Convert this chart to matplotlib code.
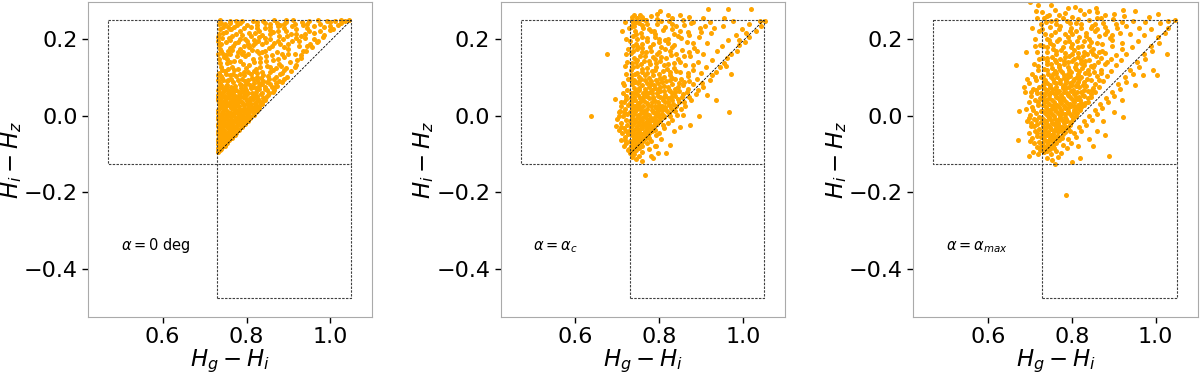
import numpy as np
import matplotlib
matplotlib.use("Agg")
import matplotlib.pyplot as plt

# colour-colour points, in units of 1e-3 mag: (Hg-Hi, Hi-Hz)
pts_zero = [
    (731, -96), (733, -91), (732, -85), (739, -86), (736, -80), (731, -74), (741, -77), (746, -73),
    (735, -69), (740, -65), (749, -62), (756, -61), (731, -60), (745, -57), (760, -55), (736, -52),
    (751, -49), (765, -47), (741, -45), (732, -41), (757, -42), (771, -40), (747, -37), (779, -35),
    (763, -34), (735, -33), (755, -29), (741, -27), (770, -26), (786, -24), (731, -22), (762, -21),
    (748, -19), (778, -18), (793, -16), (737, -15), (768, -13), (755, -11), (785, -10), (800, -9),
    (744, -7), (732, -4), (774, -5), (761, -2), (792, -1), (808, 0), (751, 2), (782, 3), (738, 5),
    (769, 7), (799, 6), (815, 9), (757, 10), (788, 11), (745, 13), (731, 14), (776, 15), (806, 14),
    (822, 17), (763, 19), (795, 20), (740, 22), (751, 24), (783, 25), (813, 23), (830, 26), (770, 28),
    (734, 30), (801, 30), (758, 32), (820, 33), (789, 35), (745, 36), (838, 37), (777, 39), (808, 40),
    (731, 42), (765, 43), (827, 44), (796, 46), (752, 47), (846, 49), (739, 50), (815, 51), (784, 52),
    (770, 55), (835, 56), (803, 58), (757, 59), (854, 60), (744, 62), (823, 63), (790, 65), (733, 66),
    (866, 67), (776, 68), (843, 70), (810, 72), (750, 73), (762, 76), (830, 77), (797, 79), (873, 78),
    (739, 81), (855, 82), (784, 83), (818, 85), (885, 88), (768, 88), (753, 90), (840, 91), (731, 92),
    (803, 93), (866, 95), (789, 97), (742, 99), (824, 100), (896, 101), (775, 103), (852, 104),
    (760, 107), (811, 108), (879, 110), (735, 112), (837, 113), (795, 115), (906, 116), (749, 117),
    (864, 119), (780, 121), (822, 122), (893, 124), (765, 126), (739, 128), (848, 129), (807, 131),
    (918, 132), (877, 134), (791, 136), (754, 138), (832, 140), (904, 141), (771, 144), (862, 145),
    (734, 147), (815, 148), (929, 150), (746, 152), (889, 153), (797, 155), (846, 157), (760, 160),
    (916, 161), (830, 163), (779, 165), (872, 167), (942, 168), (740, 170), (812, 172), (898, 174),
    (761, 176), (853, 177), (955, 179), (793, 181), (924, 183), (735, 185), (836, 186), (881, 188),
    (772, 190), (968, 191), (750, 193), (908, 195), (819, 197), (857, 199), (797, 201), (939, 202),
    (742, 204), (982, 206), (878, 207), (766, 209), (838, 211), (918, 213), (806, 215), (960, 216),
    (752, 218), (893, 220), (785, 222), (1000, 223), (856, 224), (737, 226), (825, 228), (944, 229),
    (769, 231), (909, 233), (874, 235), (800, 236), (1018, 237), (748, 239), (975, 240), (843, 241),
    (784, 243), (932, 244), (895, 245), (761, 247), (1035, 247), (815, 248), (993, 248), (737, 249),
    (866, 249), (950, 247), (1010, 246), (740, 243), (778, 236),
    (735, -62), (744, -52), (752, -56), (738, -44), (760, -45), (766, -37), (744, -30), (775, -30),
    (733, -28), (758, -25), (785, -19), (765, -17), (745, -12), (732, -9), (778, -8), (797, -6),
    (752, -4), (766, 1), (740, 0), (786, -3), (804, 4), (758, 6), (775, 10), (731, 8), (796, 14),
    (746, 18), (813, 17), (783, 18), (736, 24), (769, 22), (805, 26), (758, 27), (822, 29), (791, 30),
    (743, 32), (777, 33), (831, 36), (763, 37), (800, 38), (815, 43), (748, 41), (783, 45), (733, 47),
    (769, 48), (840, 45), (759, 52), (798, 54), (742, 55), (826, 52), (785, 58), (812, 60), (767, 61),
    (737, 58), (850, 66), (799, 67), (756, 67), (829, 69), (741, 72), (786, 72), (860, 75), (816, 76),
    (773, 78), (753, 80), (838, 82), (801, 84), (870, 86), (736, 86), (780, 92), (825, 92), (757, 94),
    (853, 96), (813, 98), (740, 104), (793, 105), (840, 106), (768, 110), (885, 112), (818, 116),
    (756, 122), (870, 124), (745, 160), (785, 175), (820, 190), (760, 225), (890, 240), (830, 205),
    (736, -89), (742, -82), (748, -78), (738, -76), (753, -70), (744, -66), (732, -67), (758, -64),
    (750, -60), (765, -58), (740, -56), (756, -51), (772, -50), (731, -48), (749, -45), (762, -40),
    (776, -44), (738, -36), (755, -33), (783, -38), (770, -33), (790, -30), (736, -26), (750, -24),
    (765, -23), (780, -25), (796, -22), (742, -18), (758, -16), (773, -15), (790, -13), (804, -14),
    (734, -13), (749, -9), (763, -8), (780, -4), (794, -7), (809, -5), (737, -1), (755, 1), (771, -2),
    (788, 2), (802, -1), (818, 3), (745, 6), (762, 8), (780, 8), (793, 9), (808, 11), (824, 12),
    (735, 17), (752, 16), (768, 17), (787, 15), (801, 17), (818, 21), (829, 20), (746, 25), (764, 26),
    (778, 28), (795, 27), (810, 30), (836, 30), (738, 35), (752, 37), (771, 36), (784, 38), (804, 35),
    (826, 38), (843, 41), (740, 45), (758, 45), (776, 43), (791, 49), (808, 47), (821, 49), (851, 53),
    (733, 54), (749, 52), (766, 56), (779, 51), (794, 58), (819, 57), (838, 60), (862, 63), (746, 65),
    (762, 65), (781, 63), (796, 72), (822, 71), (845, 76), (868, 74), (734, 76), (752, 78), (770, 73),
    (788, 79), (809, 81), (829, 84), (850, 88), (878, 90), (744, 92), (764, 96), (797, 91), (815, 95),
    (835, 99), (871, 101), (889, 96), (731, 105), (750, 109), (784, 110), (803, 113), (826, 111),
    (857, 115), (890, 118), (742, 120), (769, 119), (799, 125), (831, 127), (857, 128), (882, 130),
    (915, 128), (737, 138), (760, 139), (785, 142), (818, 140), (847, 143), (875, 147), (920, 145),
    (753, 148), (778, 155), (804, 160), (832, 150), (861, 158), (900, 162), (755, 168), (792, 167),
    (826, 170), (860, 181), (934, 170), (768, 182), (803, 187), (846, 192), (900, 187), (952, 188),
    (733, 195), (784, 199), (828, 195), (875, 195), (917, 204), (961, 200), (758, 204), (810, 207),
    (855, 213), (897, 208), (940, 214), (745, 216), (776, 214), (830, 220), (875, 222), (918, 226),
    (975, 220), (763, 225), (795, 229), (857, 232), (890, 230), (960, 235), (1000, 233), (745, 232),
    (826, 237), (873, 243), (915, 239), (1025, 242), (790, 246), (840, 248), (910, 249), (970, 249),
    (760, 243), (1045, 249),
    (752, 158), (790, 162), (838, 166), (885, 160), (930, 158), (765, 172), (805, 178), (845, 170),
    (890, 180), (945, 183), (740, 188), (780, 192), (815, 184), (865, 190), (925, 196), (970, 195),
    (760, 198), (800, 196), (845, 202), (888, 200), (930, 207), (985, 210), (735, 212), (790, 210),
    (820, 216), (862, 218), (905, 214), (950, 222), (1005, 226), (755, 232), (810, 232), (845, 228),
    (880, 236), (935, 236), (985, 232), (775, 248), (825, 244), (855, 240), (895, 250), (945, 240),
    (1000, 245), (1025, 250), (733, 160), (737, 175), (731, 205), (735, 238),
]

pts_crit = [
    (638, 0), (675, 162), (755, 262), (803, 274), (916, 279), (964, 279), (1018, 279), (972, 110),
    (936, 42), (967, 10), (894, -2), (874, -23), (765, -155), (753, -106), (817, -98), (825, -76),
    (1052, 248), (1008, 216), (990, 198), (960, 129), (913, 55), (857, 3), (793, -80), (781, -106),
    (731, -98), (735, -92), (729, -86), (740, -88), (745, -81), (733, -78), (751, -75), (738, -70),
    (756, -68), (747, -64), (731, -65), (762, -60), (741, -58), (753, -55), (768, -53), (734, -51),
    (760, -48), (746, -46), (775, -44), (729, -42), (766, -40), (739, -38), (754, -36), (781, -33),
    (771, -31), (733, -30), (760, -28), (746, -26), (787, -24), (776, -22), (738, -21), (765, -19),
    (752, -16), (795, -15), (730, -13), (782, -12), (770, -9), (744, -8), (801, -7), (758, -5),
    (789, -3), (735, -1), (811, 0), (776, 1), (749, 3), (764, 6), (798, 5), (731, 9), (785, 10),
    (818, 11), (742, 12), (806, 14), (756, 16), (771, 18), (793, 19), (827, 20), (737, 21), (813, 23),
    (762, 25), (781, 26), (748, 28), (800, 29), (834, 31), (731, 32), (770, 34), (820, 35), (755, 37),
    (789, 39), (743, 41), (808, 42), (845, 44), (776, 46), (733, 47), (827, 48), (761, 50), (796, 52),
    (749, 54), (815, 55), (857, 57), (783, 58), (737, 60), (837, 61), (768, 63), (803, 64), (752, 66),
    (824, 68), (868, 70), (789, 71), (740, 73), (846, 74), (775, 76), (812, 78), (758, 80), (880, 82),
    (831, 83), (796, 85), (743, 87), (859, 88), (780, 90), (817, 91), (765, 93), (890, 95), (838, 96),
    (732, 97), (801, 99), (753, 102), (868, 103), (786, 105), (826, 107), (742, 109), (900, 111),
    (770, 112), (850, 114), (808, 116), (733, 118), (880, 120), (760, 122), (836, 124), (793, 126),
    (912, 128), (747, 130), (861, 132), (777, 134), (820, 136), (735, 138), (892, 140), (803, 142),
    (763, 144), (925, 146), (845, 148), (741, 151), (785, 153), (873, 155), (755, 157), (828, 159),
    (905, 161), (732, 163), (800, 165), (768, 167), (937, 169), (854, 171), (746, 173), (815, 175),
    (884, 177), (779, 179), (738, 181), (950, 183), (836, 185), (760, 187), (913, 189), (799, 191),
    (866, 193), (731, 195), (963, 197), (748, 199), (822, 201), (771, 203), (894, 205), (737, 207),
    (845, 209), (983, 211), (790, 213), (757, 215), (924, 217), (868, 219), (742, 221), (810, 223),
    (998, 225), (776, 227), (897, 229), (733, 231), (841, 233), (951, 235), (760, 237), (1015, 238),
    (795, 240), (876, 242), (744, 244), (920, 245), (823, 247), (1040, 248), (768, 249), (975, 246),
    (735, 250), (857, 250), (748, 256), (781, 259), (740, 263), (830, 255), (870, 258), (760, 253),
    (795, 265), (735, 257), (850, 262), (905, 256), (955, 254),
    (745, -90), (752, -84), (760, -80), (770, -72), (781, -65), (776, -58), (793, -50), (800, -45),
    (790, -38), (812, -33), (808, -25), (820, -18), (830, -10), (826, -2), (842, 3), (838, 12),
    (852, 18), (862, 26), (858, 35), (875, 42), (870, 50), (888, 56), (893, 66), (905, 75), (902, 86),
    (920, 94), (925, 105), (935, 115), (944, 126), (955, 138), (962, 150), (970, 160), (985, 170),
    (990, 185), (1005, 193), (1015, 205), (1030, 220), (1042, 233), (740, -100), (760, -95),
    (775, -88), (790, -78), (805, -62), (835, -40), (850, -30), (760, -118), (745, -112), (735, -108),
    (785, -110), (796, -97),
    (715, -80), (722, -72), (708, -64), (719, -55), (712, -46), (726, -47), (703, -38), (717, -33),
    (724, -25), (709, -20), (720, -12), (700, -8), (714, -2), (724, 4), (706, 12), (718, 18), (725, 28),
    (710, 35), (721, 44), (713, 58), (723, 66), (716, 80), (725, 95), (720, 110), (724, 140), (726, 175),
    (722, 200), (727, 230), (719, 245), (698, -28), (694, 44), (703, 10), (714, 86), (718, 129),
    (712, 220), (720, 160), (718, -64), (710, -30), (721, -40), (704, 0), (716, 10), (722, 52),
    (708, 24), (726, -90), (716, 36),
    (737, -95), (743, -90), (734, -84), (748, -80), (739, -76), (756, -74), (745, -70), (733, -68),
    (761, -66), (752, -62), (739, -61), (769, -58), (757, -56), (744, -53), (773, -50), (738, -46),
    (764, -45), (752, -42), (782, -40), (731, -37), (772, -37), (745, -33), (786, -31), (759, -31),
    (734, -24), (767, -25), (779, -28), (753, -22), (795, -22), (742, -16), (772, -16), (760, -12),
    (788, -10), (803, -13), (734, -7), (750, -4), (765, -2), (780, -5), (797, 0), (812, -4), (741, 5),
    (756, 8), (771, 5), (791, 8), (806, 4), (823, 7), (734, 15), (749, 19), (763, 13), (782, 15),
    (798, 13), (815, 18), (832, 16), (742, 25), (755, 23), (773, 28), (791, 24), (807, 26), (823, 27),
    (840, 24), (735, 38), (750, 33), (764, 39), (782, 36), (798, 37), (814, 35), (830, 40), (848, 36),
    (739, 50), (755, 46), (769, 52), (786, 49), (803, 48), (820, 46), (838, 52), (854, 49), (733, 58),
    (745, 58), (762, 59), (778, 63), (794, 60), (812, 64), (830, 58), (848, 64), (866, 61), (751, 72),
    (767, 70), (784, 68), (801, 75), (822, 75), (838, 70), (857, 79), (735, 82), (749, 84), (770, 84),
    (788, 80), (806, 88), (825, 92), (847, 84), (870, 91), (739, 94), (757, 96), (776, 98), (793, 94),
    (812, 100), (830, 99), (853, 97), (747, 111), (765, 106), (783, 116), (800, 108), (818, 121),
    (840, 117), (868, 112), (738, 127), (756, 134), (772, 124), (793, 138), (812, 131), (850, 140),
    (880, 132), (748, 145), (766, 155), (790, 149), (817, 150), (840, 162), (870, 166), (737, 168),
    (758, 176), (780, 170), (805, 180), (830, 178), (890, 170), (745, 188), (770, 195), (790, 206),
    (815, 198), (852, 203), (880, 190), (740, 234), (762, 228), (788, 222), (830, 226), (860, 236),
    (900, 218), (752, 243), (805, 248), (930, 230), (770, 240),
    (733, -45), (748, -35), (762, -22), (778, -15), (740, -10), (755, -5), (790, -18), (745, 15),
    (767, 10), (800, 20), (735, 28), (758, 42), (785, 45), (812, 50), (744, 68), (772, 57), (797, 68),
    (826, 64), (752, 90), (780, 82), (805, 96), (735, 105), (760, 115), (790, 120), (825, 115),
    (745, 140), (775, 142), (805, 152), (835, 138), (760, 165), (795, 160), (825, 168), (860, 155),
    (750, 178), (785, 186), (820, 190), (760, 205), (800, 200), (835, 214), (872, 210), (745, 212),
    (780, 220), (815, 232), (850, 222), (765, 250), (795, 252), (830, 240), (880, 245), (910, 235),
    (760, 258), (820, 262), (738, 242),
]

pts_max = [
    (701, 296), (751, 290), (719, 290), (808, 284), (857, 281), (922, 275), (667, 133), (690, 165),
    (685, 75), (675, 11), (673, -63), (699, -104), (786, -206), (889, -106), (921, -3), (1028, 162),
    (1004, 107), (994, 120), (1046, 250),
    (733, -96), (729, -89), (741, -91), (737, -83), (748, -86), (731, -76), (744, -74), (755, -79),
    (739, -67), (752, -66), (763, -71), (734, -60), (747, -57), (759, -61), (770, -55), (742, -50),
    (730, -46), (756, -47), (767, -43), (779, -48), (737, -39), (750, -36), (762, -33), (775, -37),
    (786, -30), (732, -27), (744, -25), (757, -22), (770, -26), (782, -20), (795, -23), (739, -15),
    (751, -12), (764, -17), (776, -10), (789, -14), (803, -8), (730, -6), (745, -3), (758, -1),
    (771, 2), (784, -4), (797, 3), (811, 0), (736, 7), (749, 9), (763, 11), (777, 8), (791, 13),
    (805, 10), (820, 15), (741, 18), (755, 20), (769, 22), (783, 19), (798, 24), (813, 21), (829, 27),
    (732, 28), (746, 31), (760, 29), (775, 33), (790, 30), (806, 35), (838, 37), (822, 33), (738, 40),
    (752, 42), (767, 45), (782, 41), (797, 47), (813, 44), (846, 49), (830, 51), (733, 52), (745, 55),
    (759, 57), (774, 53), (789, 59), (805, 56), (821, 61), (855, 62), (838, 65), (740, 66), (754, 69),
    (770, 64), (786, 71), (802, 68), (818, 74), (864, 76), (835, 78), (850, 72), (731, 79), (748, 81),
    (763, 84), (779, 78), (795, 86), (812, 83), (829, 89), (874, 90), (846, 92), (737, 94), (756, 97),
    (772, 92), (789, 99), (806, 95), (823, 102), (860, 104), (884, 103), (841, 108), (744, 108),
    (763, 111), (781, 105), (798, 114), (816, 109), (894, 117), (870, 119), (733, 121), (752, 124),
    (772, 120), (790, 127), (809, 123), (828, 131), (850, 126), (906, 131), (880, 134), (742, 136),
    (762, 139), (782, 134), (801, 142), (821, 137), (842, 145), (862, 140), (917, 146), (893, 149),
    (731, 150), (752, 154), (773, 149), (794, 157), (815, 152), (836, 160), (858, 155), (930, 162),
    (880, 163), (905, 158), (740, 166), (762, 169), (784, 164), (806, 172), (828, 167), (851, 175),
    (873, 170), (944, 178), (897, 181), (920, 174), (732, 182), (755, 185), (778, 180), (801, 188),
    (824, 183), (847, 191), (871, 186), (958, 194), (895, 197), (920, 190), (745, 198), (769, 201),
    (793, 196), (817, 205), (841, 200), (866, 208), (890, 203), (972, 210), (940, 212), (915, 217),
    (736, 214), (760, 218), (785, 212), (810, 222), (835, 216), (860, 226), (885, 220), (990, 226),
    (960, 230), (930, 234), (748, 231), (773, 235), (798, 229), (823, 239), (849, 233), (875, 243),
    (905, 238), (1010, 241), (975, 245), (945, 248), (738, 245), (762, 250), (788, 247), (815, 252),
    (842, 249), (870, 255), (898, 252), (1030, 248), (740, 260), (770, 264), (800, 258), (830, 266),
    (880, 262), (925, 260), (985, 258), (1005, 265), (760, 275), (860, 270), (950, 272),
    (724, -90), (716, -82), (710, -72), (721, -68), (705, -58), (717, -52), (726, -56), (698, -45),
    (712, -40), (723, -35), (703, -28), (718, -22), (727, -16), (694, -15), (709, -8), (721, -3),
    (700, 3), (715, 8), (726, 13), (690, 18), (706, 22), (719, 27), (697, 35), (712, 40), (725, 46),
    (702, 52), (716, 58), (688, 62), (708, 70), (722, 76), (699, 85), (714, 92), (726, 100), (705, 110),
    (719, 118), (710, 135), (723, 148), (716, 165), (725, 185), (712, 200), (721, 220), (727, 240),
    (718, 255), (708, -95), (720, -100), (704, -18), (715, -10), (697, -5), (708, 15), (720, 35),
    (703, 62), (715, 68), (718, -45), (710, -28), (725, -82), (700, -65), (713, 102), (693, 95),
    (720, 130),
    (750, -100), (762, -92), (775, -97), (768, -108), (752, -115), (740, -110), (788, -85), (780, -76),
    (797, -70), (792, -60), (810, -55), (805, -45), (822, -40), (818, -30), (835, -25), (830, -15),
    (848, -10), (842, 0), (860, 5), (856, 15), (873, 20), (868, 30), (886, 36), (882, 46), (900, 52),
    (896, 62), (915, 70), (910, 82), (930, 88), (926, 100), (945, 108), (940, 120), (960, 128),
    (956, 140), (975, 148), (972, 160), (992, 170), (988, 182), (1008, 190), (1005, 205), (1022, 215),
    (1030, 230), (815, -78), (840, -60), (860, -40), (875, -15), (900, 10), (920, 40), (950, 80),
    (970, 105), (760, -125), (800, -120), (820, -110), (850, -80), (880, -50),
    (735, -87), (746, -80), (757, -85), (729, -70), (743, -65), (757, -70), (770, -63), (735, -53),
    (750, -50), (764, -52), (776, -57), (743, -43), (757, -40), (770, -35), (784, -42), (733, -33),
    (749, -30), (763, -27), (777, -30), (791, -33), (738, -20), (752, -18), (768, -20), (781, -14),
    (797, -17), (733, -10), (746, -7), (760, -8), (771, -4), (786, -8), (800, -2), (741, 2), (753, 4),
    (767, 6), (783, 4), (793, 7), (812, 6), (732, 13), (747, 16), (761, 16), (775, 14), (790, 19),
    (806, 15), (822, 23), (738, 23), (752, 26), (766, 27), (781, 25), (796, 30), (815, 28), (832, 33),
    (742, 35), (758, 36), (771, 39), (787, 36), (803, 40), (820, 40), (838, 45), (730, 43), (746, 47),
    (762, 49), (779, 47), (793, 51), (810, 50), (826, 55), (845, 57), (737, 60), (752, 62), (766, 58),
    (782, 62), (797, 64), (813, 62), (830, 68), (848, 66), (733, 71), (747, 74), (762, 75), (778, 72),
    (793, 76), (810, 77), (826, 80), (856, 82), (741, 86), (757, 89), (773, 86), (786, 90), (802, 90),
    (818, 95), (837, 97), (864, 94), (731, 104), (750, 102), (766, 100), (782, 98), (795, 104),
    (812, 100), (831, 112), (852, 115), (740, 118), (759, 117), (777, 113), (793, 120), (818, 117),
    (838, 120), (870, 112), (750, 135), (770, 132), (790, 139), (810, 136), (832, 142), (854, 133),
    (885, 140), (742, 150), (762, 160), (783, 154), (805, 148), (826, 155), (850, 160), (870, 150),
    (755, 175), (775, 172), (797, 178), (816, 164), (840, 182), (860, 190), (748, 190), (785, 192),
    (812, 196), (835, 208), (880, 212), (750, 210), (800, 214), (822, 230), (855, 240), (762, 238),
    (795, 242), (908, 228), (730, 225), (745, 262), (785, 268), (820, 275), (728, 270),
    (740, -30), (755, -55), (768, -12), (780, -35), (795, -40), (744, 10), (760, 22), (775, 45),
    (790, 55), (805, 25), (818, 50), (735, 35), (748, 60), (763, 68), (784, 82), (800, 80), (815, 88),
    (735, 90), (755, 108), (770, 126), (792, 110), (808, 128), (825, 125), (845, 130), (740, 142),
    (760, 146), (781, 142), (800, 160), (823, 145), (845, 170), (866, 165), (742, 178), (765, 195),
    (790, 205), (815, 180), (830, 195), (855, 220), (895, 210), (740, 200), (770, 225), (795, 222),
    (845, 228), (880, 232), (920, 245), (750, 248), (780, 255), (810, 242), (860, 255), (900, 265),
    (735, 255), (840, 272), (790, 280), (715, 272), (705, 230), (713, 182), (728, 150), (726, 60),
]

panel_labels = [r"$\alpha = 0$ deg", r"$\alpha = \alpha_c$", r"$\alpha = \alpha_{max}$"]

# selection boxes and the lower edge of the allowed region
box_left, box_mid, box_right = 0.47, 0.73, 1.05
box_top, box_split, box_bottom = 0.25, -0.127, -0.476
diag_x = [0.73, 1.05]
diag_y = [-0.10, 0.25]

xticks = [0.6, 0.8, 1.0]
yticks = [0.2, 0.0, -0.2, -0.4]

fig = plt.figure(figsize=(12, 3.75), dpi=100)
lefts = [0.0733, 0.4172, 0.761]

dash = (0, (2.2, 1.2))
for left, pts, label in zip(lefts, [pts_zero, pts_crit, pts_max], panel_labels):
    ax = fig.add_axes([left, 0.155, 0.237, 0.84])
    xy = np.array(pts) / 1000.0
    ax.scatter(xy[:, 0], xy[:, 1], s=13, c='orange', marker='o', linewidths=0, zorder=2)

    kw = dict(color='0.25', linestyle=dash, linewidth=0.8, zorder=3)
    ax.plot([box_left, box_right, box_right, box_left, box_left],
            [box_top, box_top, box_split, box_split, box_top], **kw)
    ax.plot([box_mid, box_mid], [box_top, box_bottom], **kw)
    ax.plot([box_mid, box_right, box_right], [box_bottom, box_bottom, box_split], **kw)
    ax.plot(diag_x, diag_y, color='black', linestyle=(0, (3, 1.5)), linewidth=0.6, zorder=3)

    ax.text(0.5, -0.35, label, fontsize=10.5)

    ax.set_xlim(0.422, 1.10)
    ax.set_ylim(-0.525, 0.297)
    ax.set_xticks(xticks)
    ax.set_yticks(yticks)
    ax.tick_params(labelsize=16, length=4, width=1)
    for sp in ax.spines.values():
        sp.set_color('#aaaaaa')
    ax.set_xlabel(r'$H_g - H_i$', fontsize=16.5, labelpad=0)
    ax.set_ylabel(r'$H_i - H_z$', fontsize=16.5, labelpad=0)

fig.savefig('out.png', dpi=100)
